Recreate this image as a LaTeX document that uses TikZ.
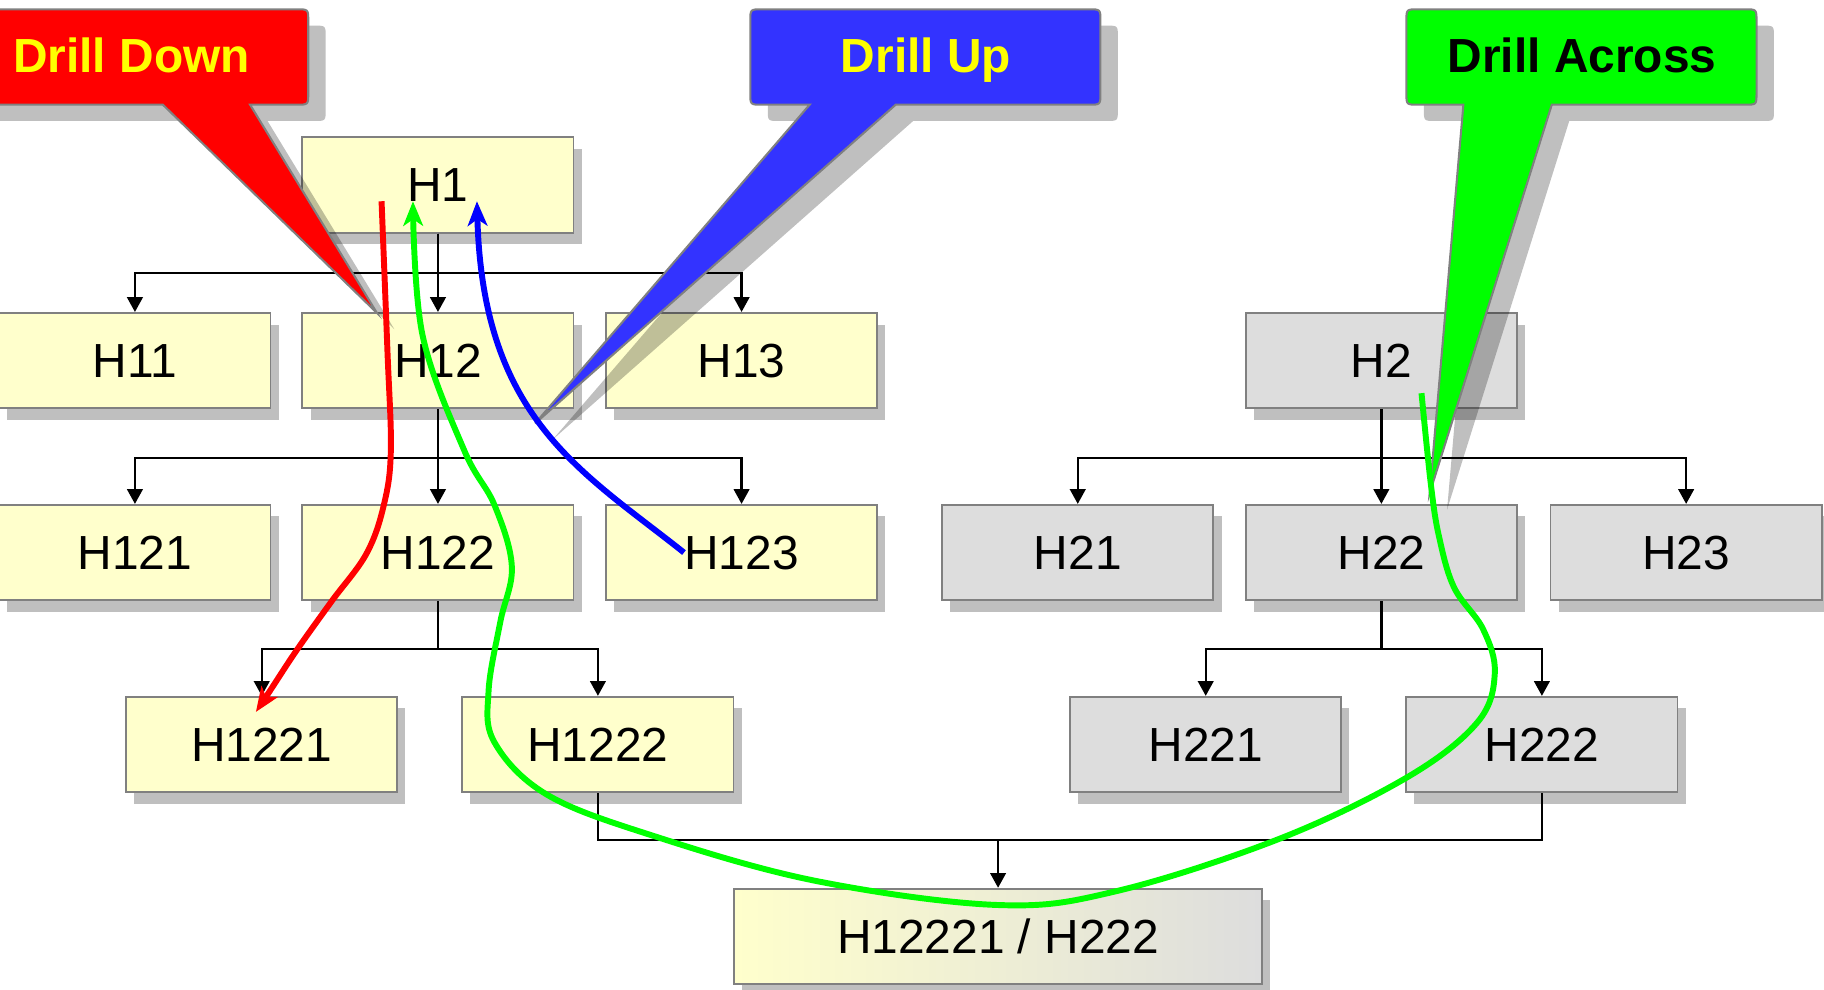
\documentclass[tikz,border=0pt]{standalone}
\usepackage{fontspec}
\setmainfont{Liberation Sans}
\usetikzlibrary{shapes,arrows.meta,positioning,shadows}

\definecolor{boxyellow}{HTML}{FFFFCC}
\definecolor{boxgray}{HTML}{DDDDDD}
\definecolor{rimgray}{HTML}{808080}
\definecolor{upblue}{HTML}{3333FF}
\definecolor{textyellow}{HTML}{FFFF00}
\definecolor{acrossgreen}{HTML}{00FF00}

\tikzset{
  hbox/.style={rectangle, draw=rimgray, line width=0.45pt, minimum width=2.33cm, minimum height=0.82cm, inner sep=0pt,
    font=\fontsize{11.7}{14}\selectfont,
    drop shadow={shadow xshift=0.07cm, shadow yshift=-0.1cm, fill=black!25, opacity=1}},
  yellowbox/.style={hbox, fill=boxyellow},
  graybox/.style={hbox, fill=boxgray},
  link/.style={line width=0.55pt, -{Triangle[length=3.6pt,width=3.8pt]}},
  bar/.style={line width=0.55pt},
  balloon/.style={draw=rimgray, line width=0.5pt},
  balloonshadow/.style={fill=black, opacity=0.25},
  calltext/.style={font=\bfseries\fontsize{11.7}{14}\selectfont, anchor=base},
  drillpath/.style={line width=1.45pt, -{Stealth[length=6pt,width=4.8pt,inset=1.6pt]}}
}

\begin{document}
\begin{tikzpicture}[x=0.01cm, y=-0.01cm]
    \useasboundingbox (0,0) rectangle (1568,851);

    % Hierarchy H1
    \node[yellowbox] (h1) at (376.5,159) {H1};
    \node[yellowbox] (h11) at (116,310) {H11};
    \node[yellowbox] (h12) at (376.5,310) {H12};
    \node[yellowbox] (h13) at (637.5,310) {H13};
    \node[yellowbox] (h121) at (116,475) {H121};
    \node[yellowbox] (h122) at (376.5,475) {H122};
    \node[yellowbox] (h123) at (637.5,475) {H123};
    \node[yellowbox] (h1221) at (225,640) {H1221};
    \node[yellowbox] (h1222) at (514,640) {H1222};

    % Hierarchy H2
    \node[graybox] (h2) at (1187.5,310) {H2};
    \node[graybox] (h21) at (926.5,475) {H21};
    \node[graybox] (h22) at (1187.5,475) {H22};
    \node[graybox] (h23) at (1449.5,475) {H23};
    \node[graybox] (h221) at (1036.5,640) {H221};
    \node[graybox] (h222) at (1325.5,640) {H222};

    % Shared member
    \node[hbox, left color=boxyellow, right color=boxgray, minimum width=4.54cm] (h12221) at (858,805) {H12221 / H222};

    % Tree links
    \draw[link] (h1.south) -- ++(0,34) -| (h11);
    \draw[link] (h1.south) -- ++(0,34) -| (h13);
    \draw[link] (h1) -- (h12);
    \draw[link] (h12.south) -- ++(0,42) -| (h121);
    \draw[link] (h12.south) -- ++(0,42) -| (h123);
    \draw[link] (h12) -- (h122);
    \draw[link] (h122.south) -- ++(0,41) -| (h1221);
    \draw[link] (h122.south) -- ++(0,41) -| (h1222);
    \draw[link] (h2.south) -- ++(0,42) -| (h21);
    \draw[link] (h2.south) -- ++(0,42) -| (h23);
    \draw[link] (h2) -- (h22);
    \draw[link] (h22.south) -- ++(0,41) -| (h221);
    \draw[link] (h22.south) -- ++(0,41) -| (h222);
    \coordinate (joint) at (858,722);
    \draw[bar] (h1222.south) |- (joint) -| (h222.south);
    \draw[link] (joint) -- (h12221);

    % Callouts
    \fill[balloonshadow, shift={(15,14)}] (324,269) -- (215,90) -- (255,90) .. controls (265,90) .. (265,80) -- (265,18) .. controls (265,8) .. (255,8) -- (-30,8) .. controls (-40,8) .. (-40,18) -- (-40,80) .. controls (-40,90) .. (-30,90) -- (140,90) -- cycle;
    \filldraw[balloon, fill=red] (324,269) -- (215,90) -- (255,90) .. controls (265,90) .. (265,80) -- (265,18) .. controls (265,8) .. (255,8) -- (-30,8) .. controls (-40,8) .. (-40,18) -- (-40,80) .. controls (-40,90) .. (-30,90) -- (140,90) -- cycle;
    \node[calltext, text=textyellow] (drillDown) at (113,62) {Drill Down};

    \fill[balloonshadow, shift={(15,14)}] (460,364) -- (696,90) -- (655,90) .. controls (645,90) .. (645,80) -- (645,18) .. controls (645,8) .. (655,8) -- (936,8) .. controls (946,8) .. (946,18) -- (946,80) .. controls (946,90) .. (936,90) -- (770,90) -- cycle;
    \filldraw[balloon, fill=upblue] (460,364) -- (696,90) -- (655,90) .. controls (645,90) .. (645,80) -- (645,18) .. controls (645,8) .. (655,8) -- (936,8) .. controls (946,8) .. (946,18) -- (946,80) .. controls (946,90) .. (936,90) -- (770,90) -- cycle;
    \node[calltext, text=textyellow] (drillUp) at (796,62) {Drill Up};

    \fill[balloonshadow, shift={(15,14)}] (1229,424) -- (1258,90) -- (1219,90) .. controls (1209,90) .. (1209,80) -- (1209,18) .. controls (1209,8) .. (1219,8) -- (1500,8) .. controls (1510,8) .. (1510,18) -- (1510,80) .. controls (1510,90) .. (1500,90) -- (1334,90) -- cycle;
    \filldraw[balloon, fill=acrossgreen] (1229,424) -- (1258,90) -- (1219,90) .. controls (1209,90) .. (1209,80) -- (1209,18) .. controls (1209,8) .. (1219,8) -- (1500,8) .. controls (1510,8) .. (1510,18) -- (1510,80) .. controls (1510,90) .. (1500,90) -- (1334,90) -- cycle;
    \node[calltext, text=black] (drillAcross) at (1360,62) {Drill Across};

    % Drill paths
    \draw[drillpath, red] plot[smooth, tension=0.6] coordinates {(328,173) (333,300) (336,387) (330,434) (315,476) (285,517) (255,559) (232,594) (220,612)};
    \draw[drillpath, blue] (588,475) .. controls (500,405) and (415,360) .. (410,173);
    \draw[drillpath, acrossgreen] plot[smooth, tension=0.6] coordinates {(1222,338) (1230,416) (1237,461) (1250,505) (1275,541) (1285,579) (1270,621) (1210,668) (1100,721) (960,766) (858,778) (700,757) (560,718) (470,683) (425,638) (420,594) (430,535) (440,487) (425,434) (399,387) (363,287) (355,173)};
\end{tikzpicture}
\end{document}
